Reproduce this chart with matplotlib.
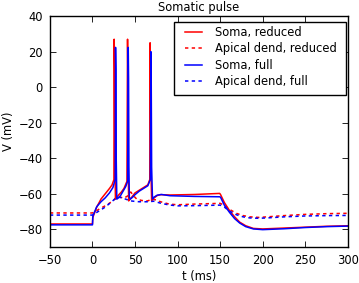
import matplotlib
matplotlib.use("Agg")
import matplotlib.pyplot as plt
from matplotlib.patches import Rectangle

# Soma, reduced (red solid)
t_soma_red = [-50, 0, 0.3, 5, 10, 15, 20, 23, 25.2, 25.5, 25.9, 26.3, 27.0, 28.5, 31, 34, 37, 40.5, 41.2, 41.6, 42.0, 42.5, 43.5, 46, 50, 55, 60, 65, 67.3, 67.7, 68.1, 68.6, 69.5, 72, 76, 80, 91, 120, 149.5, 150.5, 155, 161, 167, 173, 180, 189, 200, 225, 250, 275, 300]
v_soma_red = [-77, -77, -73.5, -67.5, -63, -60, -57, -55, -52, 27, 10, -40, -63, -62, -60.5, -59, -57, -53, 27, 5, -45, -64, -63.5, -62, -59.5, -58, -56.5, -55, -52, 25, 5, -45, -64, -62.5, -61, -60.5, -60.7, -60.4, -59.8, -60.5, -65, -69.5, -73, -76, -78, -79.5, -79.8, -79.3, -78.8, -78.3, -78]

# Apical dend, reduced (red dashed)
t_dend_red = [-50, 0, 5, 10, 15, 20, 25, 28, 32, 37, 42, 45, 48, 52, 58, 65, 70, 75, 80, 90, 100, 120, 150, 155, 160, 169, 177, 185, 195, 205, 225, 250, 275, 300]
v_dend_red = [-70.8, -70.8, -69.5, -68, -66.8, -65.3, -63.5, -62, -61.8, -62.5, -61, -59, -61, -63, -63.8, -64, -63, -63.5, -64.5, -65.8, -66.2, -65.8, -65.4, -66.5, -68.5, -71, -72.3, -73, -73.3, -73, -72.3, -71.6, -71.2, -71]

# Soma, full (blue solid)
t_soma_full = [-50, 0, 0.5, 5, 10, 15, 20, 24, 26.7, 27.1, 27.5, 27.9, 28.6, 30, 33, 36, 39, 41.3, 42.0, 42.4, 42.8, 43.3, 44.5, 47, 50, 55, 60, 65, 68.0, 68.6, 69.0, 69.5, 70.5, 72, 76, 81, 91, 120, 149.5, 150.5, 155, 161, 167, 173, 180, 189, 200, 225, 250, 275, 300]
v_soma_full = [-77.5, -77.5, -72.5, -67.3, -64.5, -62.3, -59.5, -56.5, -52, 22.4, 10, -40, -63, -62.5, -61, -58.5, -56, -53, 22.4, 5, -45, -62, -63, -62, -60.5, -58.5, -57, -55.5, -52, 20, 5, -45, -63, -62, -60.8, -60.4, -61.1, -61.5, -61.7, -62, -66.5, -70.5, -74, -76.5, -78.5, -79.8, -80.2, -79.7, -79, -78.5, -78.2]

# Apical dend, full (blue dashed)
t_dend_full = [-50, 0, 5, 10, 15, 20, 25, 28, 32, 36, 40, 45, 50, 55, 65, 72, 80, 90, 100, 120, 150, 155, 160, 169, 177, 185, 195, 205, 225, 250, 275, 300]
v_dend_full = [-72, -72, -70.5, -69, -67.5, -65.5, -63.5, -62.3, -62, -62.5, -63.2, -64, -64.3, -64.5, -64.5, -64.2, -65.3, -66.3, -66.8, -66.7, -66.4, -67.5, -69.5, -71.8, -73, -73.6, -73.8, -73.6, -73, -72.5, -72.3, -72.2]

labels = ["Soma, reduced", "Apical dend, reduced", "Soma, full", "Apical dend, full"]

plt.rcParams['font.family'] = ['DejaVu Sans']
plt.rcParams['font.size'] = 8.3

fig = plt.figure(figsize=(3.59, 2.83), dpi=100)
ax = fig.add_axes([0.139, 0.127, 0.830, 0.816])

dash = (0, (2.2, 2.2))
ax.plot(t_soma_red, v_soma_red, color='red', lw=1.1, label=labels[0])
ax.plot(t_dend_red, v_dend_red, color='red', lw=1.1, ls=dash, label=labels[1])
ax.plot(t_soma_full, v_soma_full, color='blue', lw=1.1, label=labels[2])
ax.plot(t_dend_full, v_dend_full, color='blue', lw=1.1, ls=dash, label=labels[3])

ax.set_xlim(-50, 300)
ax.set_ylim(-90, 40)
ax.set_xticks([-50, 0, 50, 100, 150, 200, 250, 300])
ax.set_yticks([-80, -60, -40, -20, 0, 20, 40])
ax.tick_params(direction='in', top=True, right=True, length=4, width=0.6, pad=5)
for s in ax.spines.values():
    s.set_linewidth(1.0)
ax.set_xlabel("t (ms)", labelpad=2)
ax.set_ylabel("V (mV)", labelpad=3)
ax.set_title("Somatic pulse", fontsize=8.3, pad=4)

# legend frame (square, black) and frameless legend content
frame = Rectangle((0.4165, 0.658), 0.9933 - 0.4165, 0.974 - 0.658, transform=ax.transAxes,
                  facecolor='white', edgecolor='black', lw=1.0, zorder=4.9)
ax.add_patch(frame)
leg = ax.legend(loc='upper right', bbox_to_anchor=(0.963, 0.958), borderaxespad=0,
                frameon=False, handlelength=1.47, handletextpad=1.1,
                labelspacing=0.3, borderpad=0)

fig.savefig("out.png", dpi=100)
